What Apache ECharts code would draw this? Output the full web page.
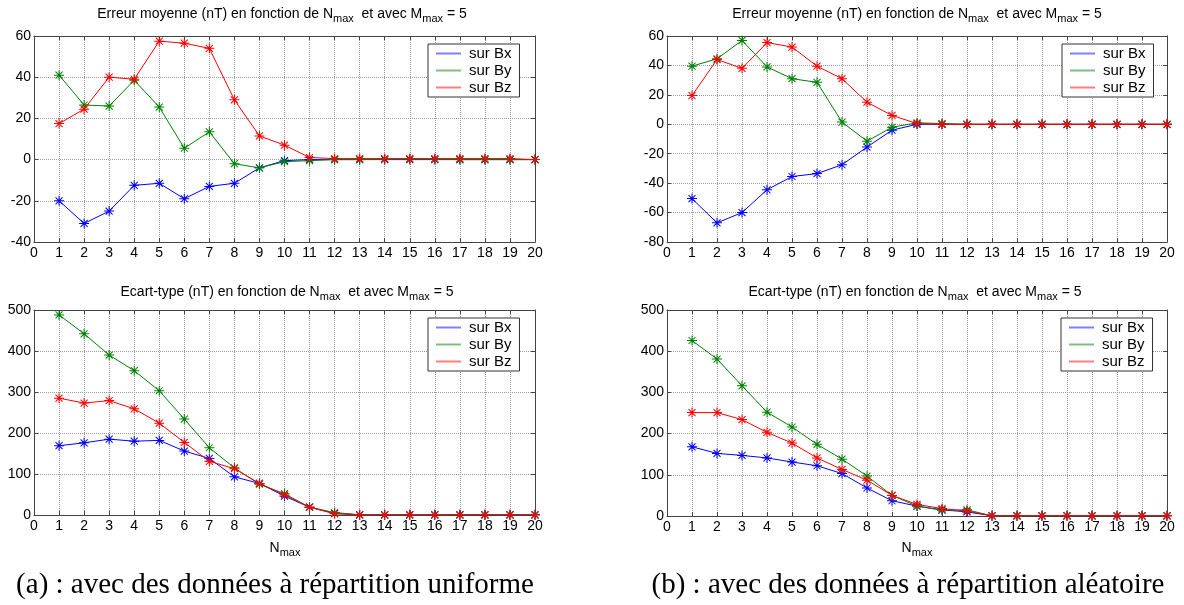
<!DOCTYPE html>
<html>
<head>
<meta charset="utf-8">
<script src="https://cdn.jsdelivr.net/npm/echarts@6/dist/echarts.min.js"></script>
<style>
html,body{margin:0;padding:0;background:#fff;}
#main{width:1184px;height:605px;}
</style>
</head>
<body>
<div id="main"></div>
<script>
// ---- Data ----
const nmax = [1,2,3,4,5,6,7,8,9,10,11,12,13,14,15,16,17,18,19,20];
const xTicks = [0,1,2,3,4,5,6,7,8,9,10,11,12,13,14,15,16,17,18,19,20];
const seriesNames = ['sur Bx','sur By','sur Bz'];

// (a) uniform - mean error
const meanA_Bx = [-20,-31,-25,-12.5,-11.5,-19,-13,-11.5,-4,-0.5,0,0,0,0,0,0,0,0,0,0];
const meanA_By = [41,26.5,26,38.5,25.5,5.5,13.5,-2,-4,-1,-0.5,0,0,0.2,0.2,0.2,0,0,0,0];
const meanA_Bz = [17.5,24.5,40,39,57.5,56.5,54,29,11.5,7,1,0.5,0.5,0.5,0.5,0.5,0.5,0.5,0.5,0];
// (b) random - mean error
const meanB_Bx = [-50.5,-67,-60,-44.5,-35.5,-33.5,-27.5,-15.5,-4,0,0,0,0,0,0,0,0,0,0,0];
const meanB_By = [39.5,44.5,57,39,31,28.5,1.5,-11.5,-2,1,0.5,0,0,0,0,0,0,0,0,0];
const meanB_Bz = [19.5,44,38,55.5,52.5,39.5,31,15,6,0.5,0,0,0,0,0,0,0,0,0,0];
// (a) uniform - standard deviation
const stdA_Bx = [169,176,185,180,182,156,138,93,77,46,19,4,0.5,0.5,0.5,0.5,0.5,0.5,0.5,0.5];
const stdA_By = [488,442,390,352,303,234,164,115,75,52,19,6,0.5,0.5,0.5,0.5,0.5,0.5,0.5,0.5];
const stdA_Bz = [285,273,279,259,224,177,131,113,77,49,19,3,0.5,0.5,0.5,0.5,0.5,0.5,0.5,0.5];
// (b) random - standard deviation
const stdB_Bx = [168,152,147,141,131,122,103,68,37,24,15,10,0.5,0.5,0.5,0.5,0.5,0.5,0.5,0.5];
const stdB_By = [426,381,316,252,216,174,138,97,50,24,14,15,0.5,0.5,0.5,0.5,0.5,0.5,0.5,0.5];
const stdB_Bz = [251,251,234,203,177,141,113,87,50,28,18,12,0.5,0.5,0.5,0.5,0.5,0.5,0.5,0.5];

const yTicksMeanA = [-40,-20,0,20,40,60];
const yTicksMeanB = [-80,-60,-40,-20,0,20,40,60];
const yTicksStd = [0,100,200,300,400,500];

const titleMean = 'Erreur moyenne (nT) en fonction de N{s|max}  et avec M{s|max} = 5';
const titleStd = 'Ecart-type (nT) en fonction de N{s|max}  et avec M{s|max} = 5';
const captionA = '(a) : avec des données à répartition uniforme';
const captionB = '(b) : avec des données à répartition aléatoire';

// ---- Styles ----
const colors = ['#0000ff','#008000','#ff0000'];
const FONT = 'Liberation Sans, Arial, sans-serif';
const SERIF = '"Liberation Serif", "Times New Roman", serif';
const star = 'path://M0 4.5L10 4.5L10 5.5L0 5.5Z M4.5 0L5.5 0L5.5 10L4.5 10Z M1.15 1.85L1.85 1.15L8.85 8.15L8.15 8.85Z M8.15 1.15L8.85 1.85L1.85 8.85L1.15 8.15Z';

const grids = [
  {left:34, top:36, width:501, height:206},
  {left:667, top:36, width:500, height:206},
  {left:34, top:310, width:501, height:205},
  {left:667, top:310, width:500, height:206}
];
const yRanges = [yTicksMeanA, yTicksMeanB, yTicksStd, yTicksStd];
const panelData = [
  [meanA_Bx, meanA_By, meanA_Bz],
  [meanB_Bx, meanB_By, meanB_Bz],
  [stdA_Bx, stdA_By, stdA_Bz],
  [stdB_Bx, stdB_By, stdB_Bz]
];

const axisLineStyle = {color:'#444', width:1};
const xAxes = [], yAxes = [], series = [];
grids.forEach((g, i) => {
  xAxes.push({
    type:'value', gridIndex:i, min:xTicks[0], max:xTicks[xTicks.length-1], interval:1,
    position:'bottom',
    axisLine:{show:true, onZero:false, lineStyle:axisLineStyle},
    axisTick:{show:true, inside:true, length:4, lineStyle:axisLineStyle},
    axisLabel:{color:'#000', fontSize:14, fontFamily:FONT, margin:4},
    splitLine:{show:true, lineStyle:{color:'#999', type:'dotted', width:1}}
  });
  xAxes.push({
    type:'value', gridIndex:i, min:xTicks[0], max:xTicks[xTicks.length-1], interval:1,
    position:'top',
    axisLine:{show:true, onZero:false, lineStyle:axisLineStyle},
    axisTick:{show:true, inside:true, length:4, lineStyle:axisLineStyle},
    axisLabel:{show:false}, splitLine:{show:false}
  });
  const yt = yRanges[i];
  yAxes.push({
    type:'value', gridIndex:i, min:yt[0], max:yt[yt.length-1], interval:yt[1]-yt[0],
    position:'left',
    axisLine:{show:true, onZero:false, lineStyle:axisLineStyle},
    axisTick:{show:true, inside:true, length:4, lineStyle:axisLineStyle},
    axisLabel:{color:'#000', fontSize:14, fontFamily:FONT, margin:3},
    splitLine:{show:true, lineStyle:{color:'#999', type:'dotted', width:1}}
  });
  yAxes.push({
    type:'value', gridIndex:i, min:yt[0], max:yt[yt.length-1], interval:yt[1]-yt[0],
    position:'right',
    axisLine:{show:true, onZero:false, lineStyle:axisLineStyle},
    axisTick:{show:true, inside:true, length:4, lineStyle:axisLineStyle},
    axisLabel:{show:false}, splitLine:{show:false}
  });
  panelData[i].forEach((vals, k) => {
    series.push({
      type:'line', name:seriesNames[k], xAxisIndex:2*i, yAxisIndex:2*i,
      data: nmax.map((n, j) => [n, vals[j]]),
      symbol: star, symbolSize: 10, symbolKeepAspect:true,
      lineStyle:{color:colors[k], width:1},
      itemStyle:{color:colors[k], borderWidth:0},
      emphasis:{disabled:true},
      animation:false, z: 2+k
    });
  });
});

const legendPos = [
  {left:428, top:44},
  {left:1062, top:44},
  {left:428, top:318},
  {left:1061, top:318}
];
const legends = legendPos.map(p => ({
  left:p.left, top:p.top, orient:'vertical',
  data: seriesNames.map((n, k) => ({name:n, icon:'rect', itemStyle:{color:colors[k], opacity:0.5}})),
  itemWidth:25, itemHeight:2, itemGap:2,
  padding:[2,8,2,8],
  borderColor:'#333', borderWidth:1, backgroundColor:'#fff',
  textStyle:{color:'#000', fontSize:15, fontFamily:FONT, padding:[0,0,0,3]},
  selectedMode:false
}));

function txt(x, y, text, size, family) {
  return {
    type:'text', x:x, y:y, silent:true,
    style: {
      text:text, fill:'#000', font: size + 'px ' + family,
      align:'center', verticalAlign:'middle',
      rich:{ s:{fontSize: Math.round(size*0.8), fontFamily:family, padding:[10,0,0,0], fill:'#000'} }
    }
  };
}

const graphics = [
  txt(282, 14, titleMean, 14, FONT),
  txt(917, 14, titleMean, 14, FONT),
  txt(287, 292, titleStd, 14, FONT),
  txt(915, 292, titleStd, 14, FONT),
  txt(285, 548, 'N{s|max}', 14, FONT),
  txt(917, 548, 'N{s|max}', 14, FONT),
  txt(275, 585, captionA, 29, SERIF),
  txt(908, 585, captionB, 29, SERIF)
];

const chart = echarts.init(document.getElementById('main'), null, {renderer:'canvas'});
chart.setOption({
  animation:false,
  backgroundColor:'#fff',
  grid: grids,
  xAxis: xAxes,
  yAxis: yAxes,
  legend: legends,
  series: series,
  graphic: graphics
});
</script>
</body>
</html>
